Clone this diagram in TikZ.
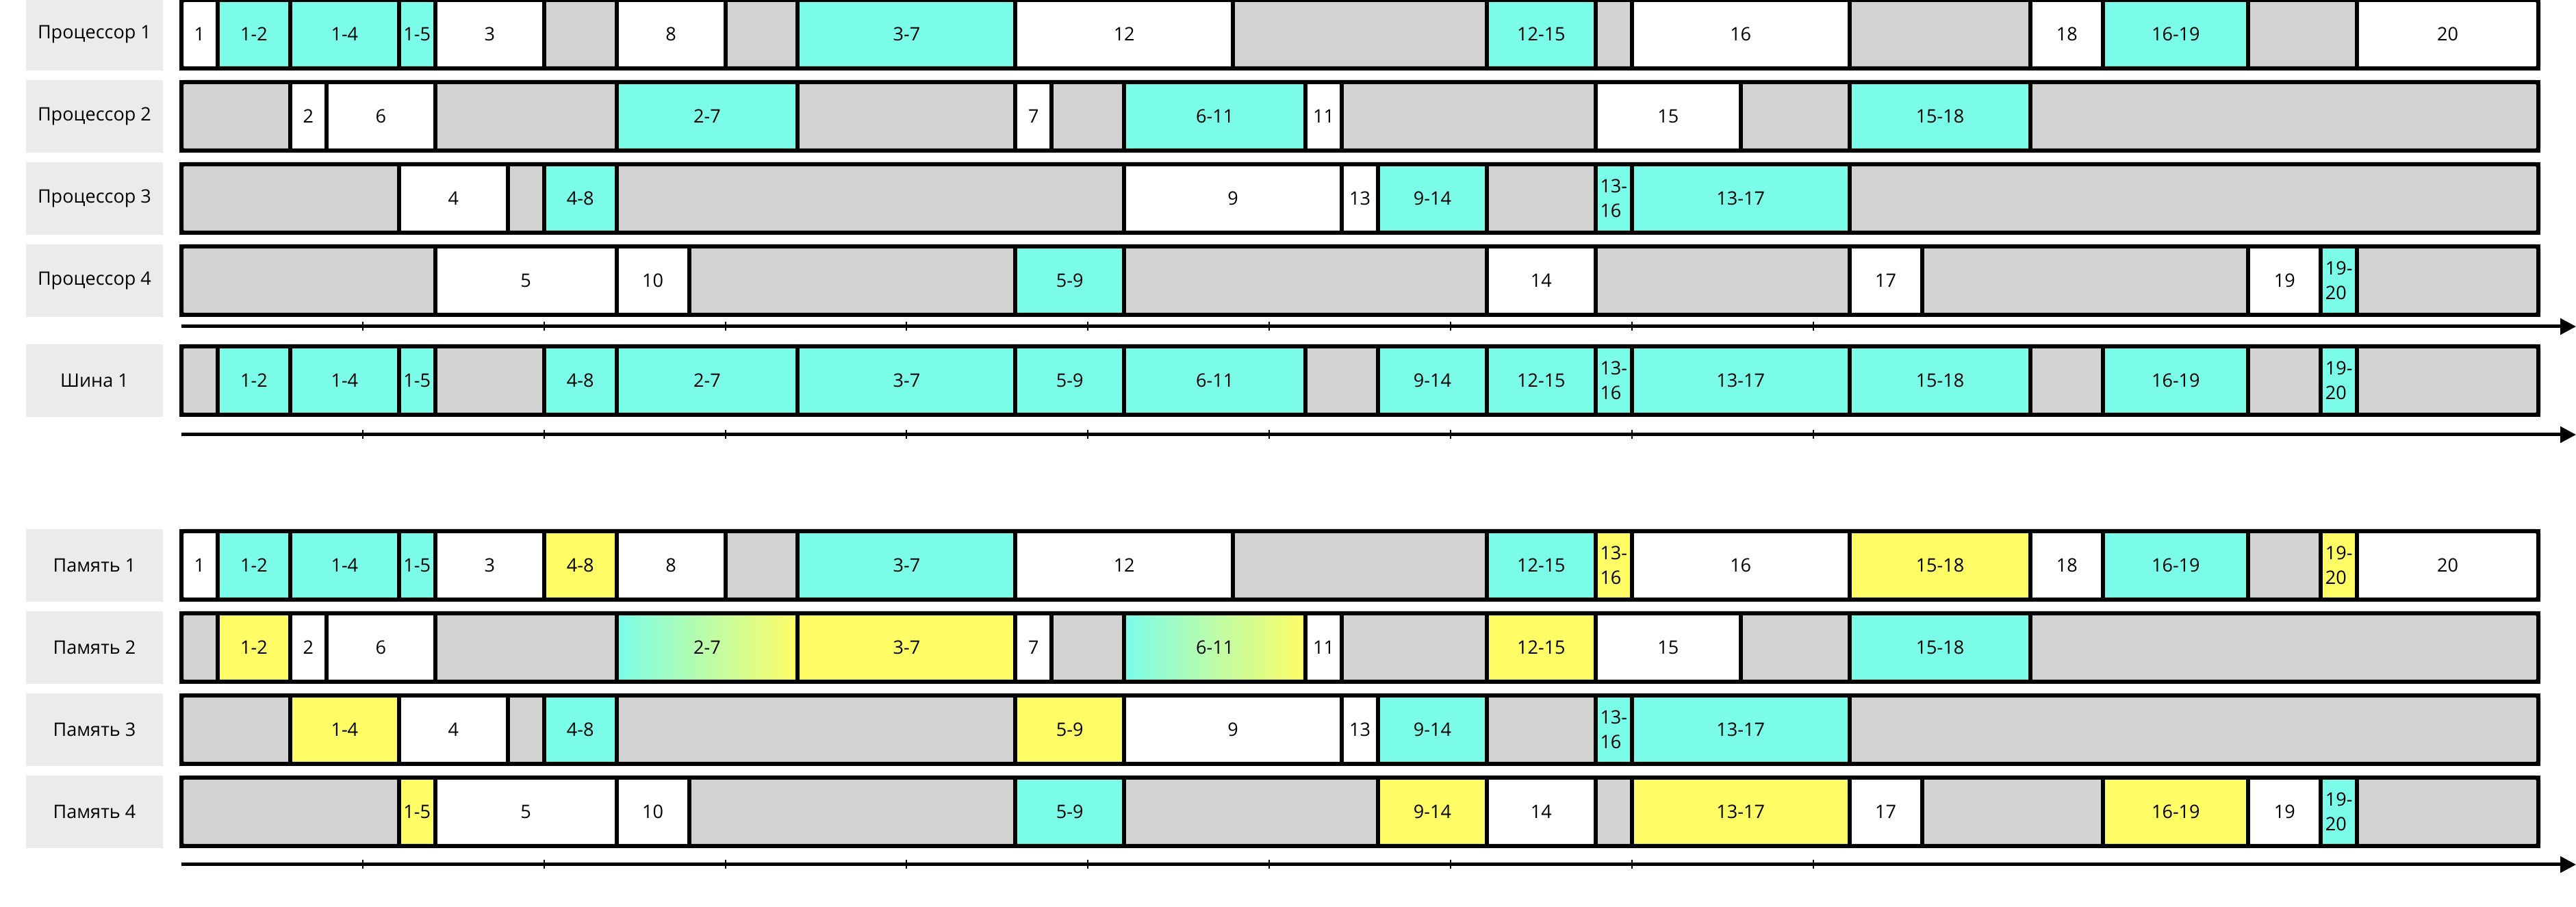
\documentclass[tikz,border=0pt]{standalone}
\usepackage{fontspec}
\setmainfont{Open Sans}
\usetikzlibrary{arrows.meta}

\definecolor{xferc}{RGB}{122,252,233}
\definecolor{memwc}{RGB}{255,252,102}
\definecolor{idlec}{RGB}{211,211,211}
\definecolor{labelc}{RGB}{235,235,235}

\tikzset{
  every node/.style={font=\fontsize{7.7}{10.2}\selectfont},
  blk/.style={draw, line width=0.6mm, minimum height=10mm, inner sep=0pt, align=left},
  idle/.style={fill=idlec},
  task/.style={fill=white},
  xfer/.style={fill=xferc},
  memw/.style={fill=memwc},
  mix/.style={left color=xferc, right color=memwc},
  rowframe/.style={draw, line width=0.6mm, rounded corners=0.4mm, minimum width=344.3mm, minimum height=10mm, inner sep=0pt},
  rowlabel/.style={fill=labelc, minimum width=20mm, minimum height=10.6mm, inner sep=0pt},
  timeaxis/.style={line width=0.5mm, -{Triangle[length=2.3mm, width=2.3mm]}},
  tickmark/.style={line width=0.2mm}
}

\begin{document}
\begin{tikzpicture}[x=5.297mm, y=1mm]
\useasboundingbox (-26.5mm,0mm) rectangle (349.8mm,132.5mm);

% processors
\node[rowlabel] (lp1) at (-12.7mm,127.5mm) {Процессор 1};
\node[rowlabel] (lp2) at (-12.7mm,115.5mm) {Процессор 2};
\node[rowlabel] (lp3) at (-12.7mm,103.5mm) {Процессор 3};
\node[rowlabel] (lp4) at (-12.7mm,91.5mm) {Процессор 4};

\foreach \s/\e/\k/\t [count=\i] in {0/1/task/1, 1/3/xfer/1-2, 3/6/xfer/1-4, 6/7/xfer/1-5, 7/10/task/3, 10/12/idle/{}, 12/15/task/8, 15/17/idle/{}, 17/23/xfer/3-7, 23/29/task/12, 29/36/idle/{}, 36/39/xfer/12-15, 39/40/idle/{}, 40/46/task/16, 46/51/idle/{}, 51/53/task/18, 53/57/xfer/16-19, 57/60/idle/{}, 60/65/task/20}
  \node[blk, \k, minimum width={(\e-\s)*5.297mm}] (p1-\i) at ({(\s+\e)/2},127.5) {\t};

\foreach \s/\e/\k/\t [count=\i] in {0/3/idle/{}, 3/4/task/2, 4/7/task/6, 7/12/idle/{}, 12/17/xfer/2-7, 17/23/idle/{}, 23/24/task/7, 24/26/idle/{}, 26/31/xfer/6-11, 31/32/task/11, 32/39/idle/{}, 39/43/task/15, 43/46/idle/{}, 46/51/xfer/15-18, 51/65/idle/{}}
  \node[blk, \k, minimum width={(\e-\s)*5.297mm}] (p2-\i) at ({(\s+\e)/2},115.5) {\t};

\foreach \s/\e/\k/\t [count=\i] in {0/6/idle/{}, 6/9/task/4, 9/10/idle/{}, 10/12/xfer/4-8, 12/26/idle/{}, 26/32/task/9, 32/33/task/13, 33/36/xfer/9-14, 36/39/idle/{}, 39/40/xfer/{13-\\16}, 40/46/xfer/13-17, 46/65/idle/{}}
  \node[blk, \k, minimum width={(\e-\s)*5.297mm}] (p3-\i) at ({(\s+\e)/2},103.5) {\t};

\foreach \s/\e/\k/\t [count=\i] in {0/7/idle/{}, 7/12/task/5, 12/14/task/10, 14/23/idle/{}, 23/26/xfer/5-9, 26/36/idle/{}, 36/39/task/14, 39/46/idle/{}, 46/48/task/17, 48/57/idle/{}, 57/59/task/19, 59/60/xfer/{19-\\20}, 60/65/idle/{}}
  \node[blk, \k, minimum width={(\e-\s)*5.297mm}] (p4-\i) at ({(\s+\e)/2},91.5) {\t};

\node[rowframe] (p1) at (32.5,127.5) {};
\node[rowframe] (p2) at (32.5,115.5) {};
\node[rowframe] (p3) at (32.5,103.5) {};
\node[rowframe] (p4) at (32.5,91.5) {};

\coordinate (t1a) at (0,84.8);
\coordinate (t1b) at (66.04,84.8);
\draw[timeaxis] (t1a) -- (t1b);
\foreach \x in {5,10,...,45}
  \draw[tickmark] (\x,84.15) -- (\x,85.45);

% bus
\node[rowlabel] (lb) at (-12.7mm,76.9mm) {Шина 1};

\foreach \s/\e/\k/\t [count=\i] in {0/1/idle/{}, 1/3/xfer/1-2, 3/6/xfer/1-4, 6/7/xfer/1-5, 7/10/idle/{}, 10/12/xfer/4-8, 12/17/xfer/2-7, 17/23/xfer/3-7, 23/26/xfer/5-9, 26/31/xfer/6-11, 31/33/idle/{}, 33/36/xfer/9-14, 36/39/xfer/12-15, 39/40/xfer/{13-\\16}, 40/46/xfer/13-17, 46/51/xfer/15-18, 51/53/idle/{}, 53/57/xfer/16-19, 57/59/idle/{}, 59/60/xfer/{19-\\20}, 60/65/idle/{}}
  \node[blk, \k, minimum width={(\e-\s)*5.297mm}] (b-\i) at ({(\s+\e)/2},76.9) {\t};

\node[rowframe] (b) at (32.5,76.9) {};

\coordinate (t2a) at (0,69.0);
\coordinate (t2b) at (66.04,69.0);
\draw[timeaxis] (t2a) -- (t2b);
\foreach \x in {5,10,...,45}
  \draw[tickmark] (\x,68.35) -- (\x,69.65);

% memory
\node[rowlabel] (lm1) at (-12.7mm,49.9mm) {Память 1};
\node[rowlabel] (lm2) at (-12.7mm,37.9mm) {Память 2};
\node[rowlabel] (lm3) at (-12.7mm,25.9mm) {Память 3};
\node[rowlabel] (lm4) at (-12.7mm,13.9mm) {Память 4};

\foreach \s/\e/\k/\t [count=\i] in {0/1/task/1, 1/3/xfer/1-2, 3/6/xfer/1-4, 6/7/xfer/1-5, 7/10/task/3, 10/12/memw/4-8, 12/15/task/8, 15/17/idle/{}, 17/23/xfer/3-7, 23/29/task/12, 29/36/idle/{}, 36/39/xfer/12-15, 39/40/memw/{13-\\16}, 40/46/task/16, 46/51/memw/15-18, 51/53/task/18, 53/57/xfer/16-19, 57/59/idle/{}, 59/60/memw/{19-\\20}, 60/65/task/20}
  \node[blk, \k, minimum width={(\e-\s)*5.297mm}] (m1-\i) at ({(\s+\e)/2},49.9) {\t};

\foreach \s/\e/\k/\t [count=\i] in {0/1/idle/{}, 1/3/memw/1-2, 3/4/task/2, 4/7/task/6, 7/12/idle/{}, 12/17/mix/2-7, 17/23/memw/3-7, 23/24/task/7, 24/26/idle/{}, 26/31/mix/6-11, 31/32/task/11, 32/36/idle/{}, 36/39/memw/12-15, 39/43/task/15, 43/46/idle/{}, 46/51/xfer/15-18, 51/65/idle/{}}
  \node[blk, \k, minimum width={(\e-\s)*5.297mm}] (m2-\i) at ({(\s+\e)/2},37.9) {\t};

\foreach \s/\e/\k/\t [count=\i] in {0/3/idle/{}, 3/6/memw/1-4, 6/9/task/4, 9/10/idle/{}, 10/12/xfer/4-8, 12/23/idle/{}, 23/26/memw/5-9, 26/32/task/9, 32/33/task/13, 33/36/xfer/9-14, 36/39/idle/{}, 39/40/xfer/{13-\\16}, 40/46/xfer/13-17, 46/65/idle/{}}
  \node[blk, \k, minimum width={(\e-\s)*5.297mm}] (m3-\i) at ({(\s+\e)/2},25.9) {\t};

\foreach \s/\e/\k/\t [count=\i] in {0/6/idle/{}, 6/7/memw/1-5, 7/12/task/5, 12/14/task/10, 14/23/idle/{}, 23/26/xfer/5-9, 26/33/idle/{}, 33/36/memw/9-14, 36/39/task/14, 39/40/idle/{}, 40/46/memw/13-17, 46/48/task/17, 48/53/idle/{}, 53/57/memw/16-19, 57/59/task/19, 59/60/xfer/{19-\\20}, 60/65/idle/{}}
  \node[blk, \k, minimum width={(\e-\s)*5.297mm}] (m4-\i) at ({(\s+\e)/2},13.9) {\t};

\node[rowframe] (m1) at (32.5,49.9) {};
\node[rowframe] (m2) at (32.5,37.9) {};
\node[rowframe] (m3) at (32.5,25.9) {};
\node[rowframe] (m4) at (32.5,13.9) {};

\coordinate (t3a) at (0,6.2);
\coordinate (t3b) at (66.04,6.2);
\draw[timeaxis] (t3a) -- (t3b);
\foreach \x in {5,10,...,45}
  \draw[tickmark] (\x,5.55) -- (\x,6.85);

\end{tikzpicture}
\end{document}
